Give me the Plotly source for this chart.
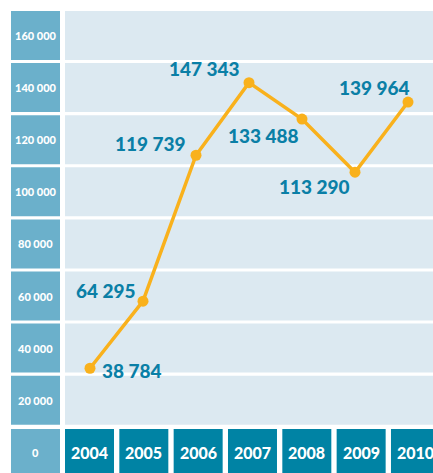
import plotly.graph_objects as go

years = ["2004", "2005", "2006", "2007", "2008", "2009", "2010"]
values = [38784, 64295, 119739, 147343, 133488, 113290, 139964]
value_labels = ["38 784", "64 295", "119 739", "147 343", "133 488", "113 290", "139 964"]
y_labels = ["160 000", "140 000", "120 000", "100 000", "80 000", "60 000", "40 000", "20 000"]
zero_label = "0"

W, H = 433, 473
ORANGE = "#f9b11c"
TEAL = "#0a7fa6"
DARK = "#0083a4"
MID = "#6bb0cb"
LIGHT = "#dce9f1"
FONT = "Lato"

# label placement next to each point: anchor, x shift, y shift (pixels)
label_pos = [("left", 10, -2), ("right", -5, 11), ("right", -8, 12), ("right", -7, 14),
             ("right", -1, -16), ("right", -3, -14), ("right", 4, 15)]


def px(x):
    return x / W


def py(y):
    return 1 - y / H


fig = go.Figure()

shapes = []
annotations = []

# rows: left value boxes and light plot bands
row_top, row_step, row_h = 11, 52.1, 49
for k, lab in enumerate(y_labels):
    t = row_top + k * row_step
    shapes.append(dict(type="rect", xref="paper", yref="paper", x0=px(11), x1=px(60),
                       y0=py(t + row_h), y1=py(t), fillcolor=MID, line_width=0, layer="below"))
    shapes.append(dict(type="rect", xref="paper", yref="paper", x0=px(65), x1=px(W + 5),
                       y0=py(t + row_h), y1=py(t), fillcolor=LIGHT, line_width=0, layer="below"))
    annotations.append(dict(text=lab, xref="paper", yref="paper", x=px(35.5), y=py(t + row_h / 2),
                            showarrow=False, xanchor="center", yanchor="middle",
                            font=dict(family=FONT, size=11, color="white", weight=900)))

# bottom row: zero box and year boxes
bt, bb = 429, H + 5
shapes.append(dict(type="rect", xref="paper", yref="paper", x0=px(11), x1=px(60),
                   y0=py(bb), y1=py(bt), fillcolor=MID, line_width=0, layer="below"))
annotations.append(dict(text=zero_label, xref="paper", yref="paper", x=px(35.5), y=py(452),
                        showarrow=False, xanchor="center", yanchor="middle",
                        font=dict(family=FONT, size=11, color="white", weight=900)))
for i, yr in enumerate(years):
    x0 = 65 + i * 54.33
    shapes.append(dict(type="rect", xref="paper", yref="paper", x0=px(x0), x1=px(x0 + 49),
                       y0=py(bb), y1=py(bt), fillcolor=DARK, line_width=0, layer="below"))
    annotations.append(dict(text=yr, xref="paper", yref="paper", x=px(x0 + 24.5), y=py(452.5),
                            showarrow=False, xanchor="center", yanchor="middle",
                            font=dict(family=FONT, size=16, color="white", weight=900)))

fig.add_trace(go.Scatter(x=years, y=values, mode="lines+markers",
                         line=dict(color=ORANGE, width=3.5),
                         marker=dict(color=ORANGE, size=11), hoverinfo="skip"))

# category axis: annotations are placed by category index
for i, (v, lab, (anc, dx, dy)) in enumerate(zip(values, value_labels, label_pos)):
    annotations.append(dict(text=lab, x=i, y=v, xref="x", yref="y", showarrow=False,
                            xanchor=anc, yanchor="middle", xshift=dx, yshift=dy,
                            font=dict(family=FONT, size=19, color=TEAL, weight=900)))

fig.update_layout(
    width=W, height=H,
    margin=dict(l=0, r=0, t=0, b=0),
    paper_bgcolor="white", plot_bgcolor="rgba(0,0,0,0)",
    showlegend=False,
    shapes=shapes, annotations=annotations,
    xaxis=dict(type="category", range=[-1.698, 6.4717], visible=False, fixedrange=True),
    yaxis=dict(range=[-1030, 178750], visible=False, fixedrange=True),
)

fig.write_html("out.html", config={"displayModeBar": False},
               post_script="document.body.style.margin='0px';document.body.style.overflow='hidden';")
